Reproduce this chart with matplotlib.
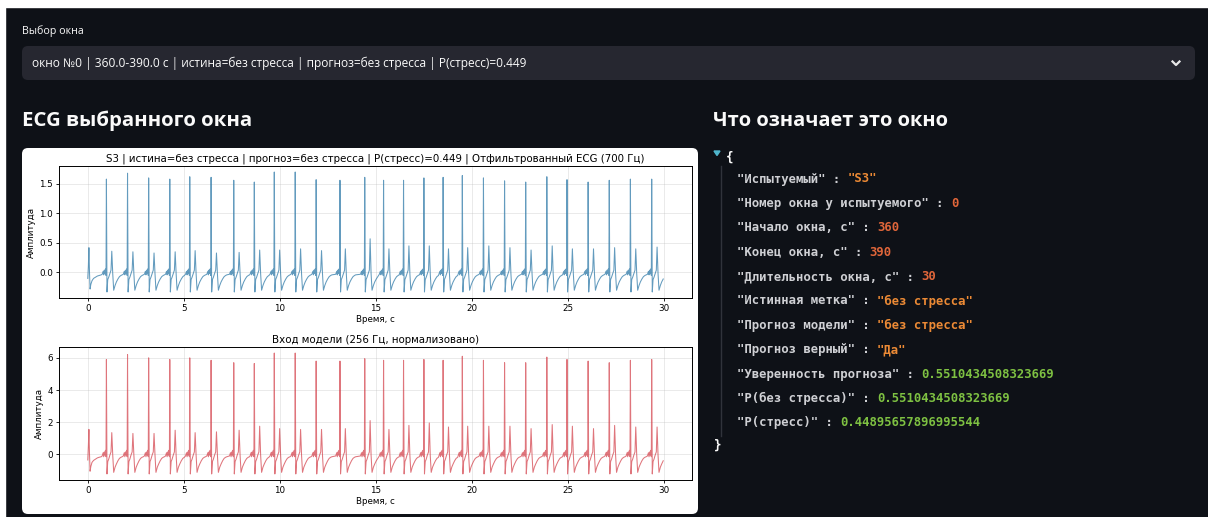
import matplotlib
matplotlib.use("Agg")
import matplotlib.pyplot as plt
from matplotlib.patches import FancyBboxPatch, Rectangle, Polygon

W, H = 1208, 517

# R peak times, s
r_times = [0.97, 2.07, 3.17, 4.27, 5.31, 6.42, 7.60, 8.67, 9.71, 10.80,
           11.89, 13.13, 14.42, 15.40, 16.44, 17.50, 18.50, 19.50, 20.60,
           21.70, 22.80, 23.90, 24.95, 26.05, 27.15, 28.25, 29.36]

# filtered ECG: R peak and secondary peak heights
r_top = [1.58, 1.68, 1.60, 1.58, 1.62, 1.61, 1.56, 1.53, 1.70, 1.70,
         1.57, 1.56, 1.61, 1.56, 1.56, 1.60, 1.61, 1.64, 1.60, 1.55,
         1.53, 1.62, 1.57, 1.53, 1.56, 1.58, 1.58]
t_top = [0.36, 0.35, 0.33, 0.35, 0.37, 0.33, 0.34, 0.38, 0.38, 0.40,
         0.37, 0.40, 0.57, 0.40, 0.45, 0.45, 0.40, 0.42, 0.45, 0.42,
         0.38, 0.45, 0.40, 0.40, 0.42, 0.40, 0.43]

# model input (normalized): same beats
r_bot = [5.90, 6.20, 6.00, 5.90, 6.00, 5.85, 5.70, 5.65, 6.30, 6.30,
         5.80, 5.80, 5.95, 5.85, 5.85, 5.90, 5.85, 6.10, 5.85, 5.70,
         5.70, 6.05, 5.90, 5.80, 5.70, 5.85, 5.90]
t_bot = [1.35, 1.30, 1.30, 1.50, 1.35, 1.40, 1.50, 1.75, 1.60, 1.55,
         1.55, 1.60, 2.10, 1.55, 1.80, 1.95, 1.70, 1.75, 1.75, 1.75,
         1.60, 1.85, 1.75, 1.60, 1.80, 1.70, 1.70]

# beat shape around the R peak (offsets in s); index 7 = R, index 13 = second peak
beat_dt = [-0.22, -0.17, -0.14, -0.11, -0.08, -0.05, -0.02, 0.00, 0.03, 0.07,
           0.12, 0.18, 0.24, 0.28, 0.33, 0.38, 0.45, 0.52, 0.60, 0.68, 0.76, 0.82]
beat_top = [-0.03, 0.02, -0.04, 0.04, -0.02, 0.06, -0.05, 0.0, -0.33, -0.12,
            -0.08, -0.02, 0.04, 0.0, -0.02, -0.30, -0.22, -0.16, -0.11, -0.07, -0.05, -0.04]
beat_bot = [-0.10, 0.10, -0.15, 0.15, -0.05, 0.25, -0.15, 0.0, -1.22, -0.45,
            -0.30, -0.05, 0.15, 0.0, -0.05, -1.12, -0.80, -0.60, -0.40, -0.25, -0.18, -0.15]

# start of the window (tail of a previous beat)
lead_dt = [0.0, 0.03, 0.06, 0.09, 0.12, 0.16, 0.22, 0.30, 0.40, 0.50, 0.60, 0.70]
lead_top = [-0.10, 0.10, 0.42, 0.00, -0.28, -0.20, -0.14, -0.10, -0.08, -0.06, -0.05, -0.04]
lead_bot = [-0.35, 0.50, 1.55, 0.00, -1.05, -0.75, -0.50, -0.38, -0.30, -0.22, -0.18, -0.15]

T_END = 30.0

title_top = "S3 | истина=без стресса | прогноз=без стресса | P(стресс)=0.449 | Отфильтрованный ECG (700 Гц)"
title_bot = "Вход модели (256 Гц, нормализовано)"
select_label = "Выбор окна"
select_text = "окно №0 | 360.0-390.0 с | истина=без стресса | прогноз=без стресса | P(стресс)=0.449"
head_left = "ECG выбранного окна"
head_right = "Что означает это окно"

json_keys = ["Испытуемый", "Номер окна у испытуемого", "Начало окна, с", "Конец окна, с",
             "Длительность окна, с", "Истинная метка", "Прогноз модели", "Прогноз верный",
             "Уверенность прогноза", "P(без стресса)", "P(стресс)"]
json_vals = ['"S3"', "0", "360", "390", "30", '"без стресса"', '"без стресса"', '"Да"',
             "0.5510434508323669", "0.5510434508323669", "0.44895657896995544"]
json_kind = ["str", "int", "int", "int", "int", "str", "str", "str", "float", "float", "float"]

BG = "#0e1117"
KIND_COL = {"str": "#ec8a35", "int": "#e0663a", "float": "#7ec142"}
UI_FONT = ["Open Sans", "DejaVu Sans"]
MONO = "DejaVu Sans Mono"


def build(lead, shape, r_amp, t_amp):
    xs, ys = list(lead_dt), list(lead)
    for i, r in enumerate(r_times):
        nxt = r_times[i + 1] + beat_dt[0] if i + 1 < len(r_times) else T_END + 1
        for k, (dt, v) in enumerate(zip(beat_dt, shape)):
            x = r + dt
            if x >= nxt or x > T_END:
                continue
            if k == 7:
                v = r_amp[i]
            elif k == 13:
                v = t_amp[i]
            xs.append(x)
            ys.append(v)
    return xs, ys


fig = plt.figure(figsize=(W / 100, H / 100), dpi=100)
fig.patch.set_facecolor(BG)

# page layer in pixel coords
bg = fig.add_axes([0, 0, 1, 1])
bg.set_xlim(0, W)
bg.set_ylim(H, 0)
bg.axis("off")
bg.add_patch(Rectangle((0, 0), W, 7, color="white", zorder=1))
bg.add_patch(Rectangle((0, 0), 5, H, color="white", zorder=1))

renderer = fig.canvas.get_renderer()


def fit(txt, width):
    w = txt.get_window_extent(renderer).width
    txt.set_fontsize(txt.get_fontsize() * width / w)


t = bg.text(22, 31, select_label, color="#fafafa", fontsize=7, va="center", family=UI_FONT)
fit(t, 62)
bg.add_patch(FancyBboxPatch((22, 46), 1173, 34, boxstyle="round,pad=0,rounding_size=6",
                            fc="#262730", ec="none"))
t = bg.text(32, 63, select_text, color="#fafafa", fontsize=8, va="center", family=UI_FONT)
fit(t, 498)
bg.plot([1172.5, 1176, 1179.5], [61.5, 65, 61.5], color="#e8e8e8", lw=1.6)

t = bg.text(22, 121, head_left, color="#fafafa", fontsize=14, va="center",
            weight="bold", family=UI_FONT)
fit(t, 231)
t = bg.text(713, 121, head_right, color="#fafafa", fontsize=14, va="center",
            weight="bold", family=UI_FONT)
fit(t, 236)

# chart card
bg.add_patch(FancyBboxPatch((22, 148), 676, 366, boxstyle="round,pad=0,rounding_size=6",
                            fc="white", ec="none"))

# json view
bg.add_patch(Polygon([[714, 151], [720, 151], [717, 155.5]], closed=True, color="#4fb6cc"))
bg.text(726, 157, "{", color="#fafafa", fontsize=9, va="center", family=MONO, weight="bold")
bg.plot([721, 721], [166, 436], color="#30333b", lw=1)
bg.text(714, 445, "}", color="#fafafa", fontsize=9, va="center", family=MONO, weight="bold")
row_y = 179
for k, v, kind in zip(json_keys, json_vals, json_kind):
    kt = bg.text(737, row_y, '"%s" : ' % k, color="#cfd0d4", fontsize=8.8, va="center",
                 family=MONO, weight="bold")
    x1 = kt.get_window_extent(renderer).x1
    bg.text(x1, row_y, v, color=KIND_COL[kind], fontsize=8.8, va="center",
            family=MONO, weight="bold")
    row_y += 24.4

# ECG axes
plt.rcParams["font.family"] = ["DejaVu Sans"]


def px_axes(x0, y0, x1, y1):
    return fig.add_axes([x0 / W, 1 - y1 / H, (x1 - x0) / W, (y1 - y0) / H])


ax1 = px_axes(59, 166, 692, 298)
xs, ys = build(lead_top, beat_top, r_top, t_top)
ax1.plot(xs, ys, color="#2f7aa8", lw=0.75, alpha=0.75)
ax1.set_title(title_top, fontsize=7.4, pad=3)
ax1.set_ylabel("Амплитуда", fontsize=6.3, labelpad=2)
ax1.set_xlabel("Время, с", fontsize=6.3, labelpad=1)

ax2 = px_axes(59, 347, 692, 480)
xs, ys = build(lead_bot, beat_bot, r_bot, t_bot)
ax2.plot(xs, ys, color="#d23a44", lw=0.75, alpha=0.7)
ax2.set_title(title_bot, fontsize=7.4, pad=3)
ax2.set_ylabel("Амплитуда", fontsize=6.3, labelpad=2)
ax2.set_xlabel("Время, с", fontsize=6.3, labelpad=1)

for ax in (ax1, ax2):
    ax.grid(True, alpha=0.3, lw=0.6)
    ax.tick_params(labelsize=6.3, length=2.5, width=0.6, pad=2)
    ax.set_xticks([0, 5, 10, 15, 20, 25, 30])
    for s in ax.spines.values():
        s.set_linewidth(0.7)
ax2.set_yticks([0, 2, 4, 6])

fig.savefig("out.png", dpi=100, facecolor=BG)
